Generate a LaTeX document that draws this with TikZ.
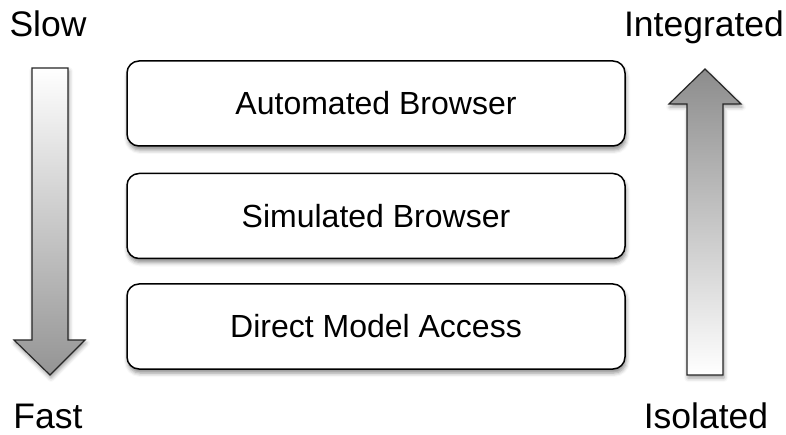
\documentclass[tikz,border=0pt]{standalone}
\usepackage{fontspec}
\setmainfont{Liberation Sans}
\usetikzlibrary{shadows.blur}
\begin{document}
\begin{tikzpicture}[x=1pt,y=-1pt,
  layerbox/.style={draw=black, line width=1.5pt, rounded corners=12pt, fill=white,
    minimum width=498pt, minimum height=85pt, inner sep=0pt,
    font=\fontsize{32}{38}\selectfont,
    blur shadow={shadow xshift=1pt, shadow yshift=-4pt, shadow blur radius=4pt, shadow opacity=45}},
  sidelabel/.style={anchor=base, inner sep=0pt, font=\fontsize{35.5}{42}\selectfont},
  arrowshape/.style={draw=black!85, line width=1.2pt,
    blur shadow={shadow xshift=1pt, shadow yshift=-3pt, shadow blur radius=4pt, shadow opacity=40}}
]
\useasboundingbox (0,0) rectangle (786,435);
% layers
\node[layerbox] (auto) at (376,103.5) {Automated Browser};
\node[layerbox] (sim) at (376,216) {Simulated Browser};
\node[layerbox] (dma) at (376,326.5) {Direct Model Access};
% side labels
\node[sidelabel] (slow) at (48,37) {Slow};
\node[sidelabel] (fast) at (48,428) {Fast};
\node[sidelabel] (integ) at (704,37) {Integrated};
\node[sidelabel] (iso) at (706,428) {Isolated};
% left arrow (down)
\path[arrowshape, top color=white, bottom color=black!42]
  (32,68) -- (68,68) -- (68,340) -- (85,340) -- (50,375) -- (14,340) -- (32,340) -- cycle;
% right arrow (up)
\path[arrowshape, top color=black!45, bottom color=white]
  (687,375) -- (723,375) -- (723,104) -- (741,104) -- (705,69) -- (669,104) -- (687,104) -- cycle;
\end{tikzpicture}
\end{document}
